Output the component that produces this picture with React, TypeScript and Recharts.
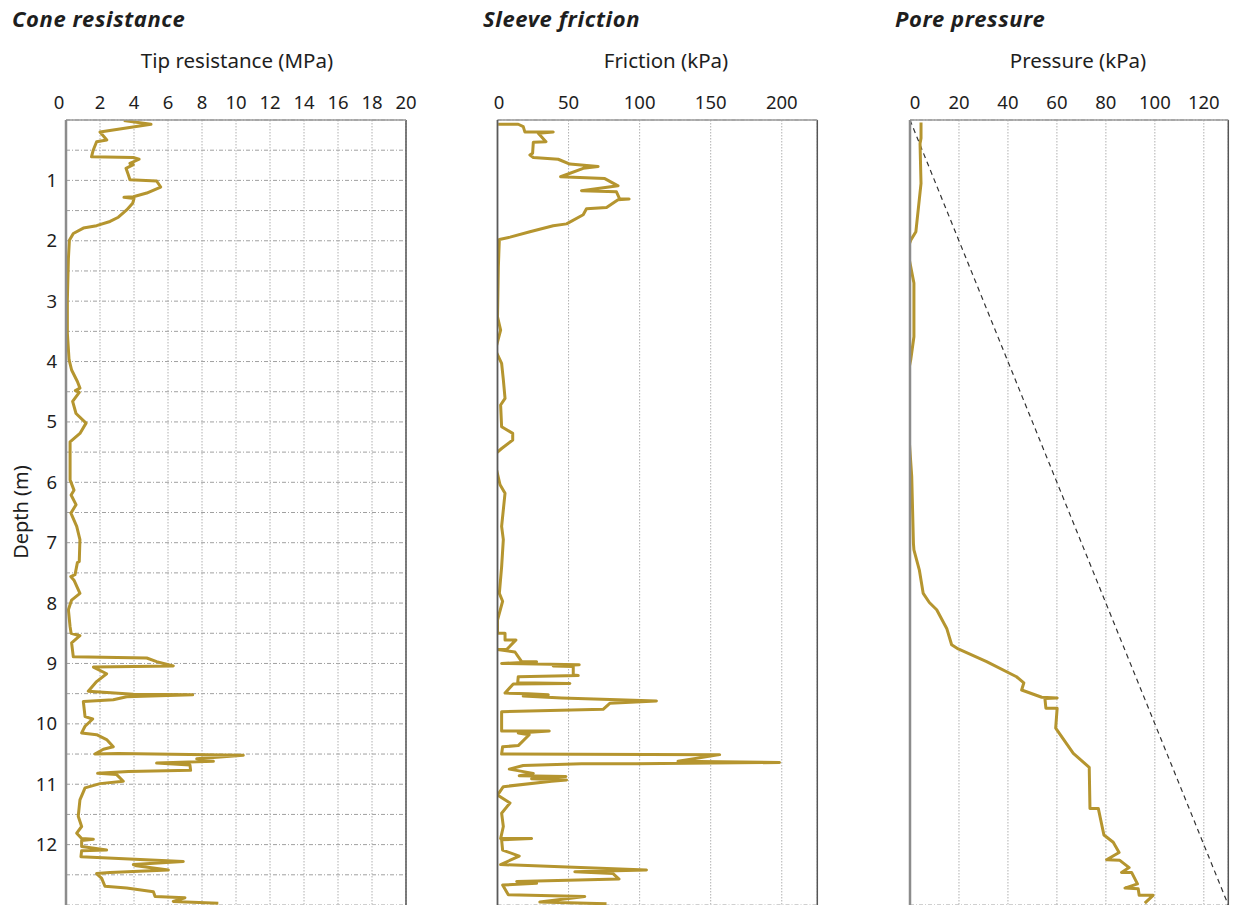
import React from 'react';
import { LineChart, Line, XAxis, YAxis, CartesianGrid, ReferenceLine } from 'recharts';

// ---------- data ----------
const coneDepth = [
  0.01, 0.07, 0.2, 0.33, 0.36, 0.5, 0.61, 0.62, 0.65, 0.72, 0.74, 0.8, 0.91, 0.99, 1.01, 1.11, 1.21, 1.27, 1.28, 1.3,
  1.38, 1.49, 1.61, 1.68, 1.75, 1.79, 1.88, 1.99, 2.3, 2.98, 3.53, 3.97, 4.14, 4.33, 4.44, 4.48, 4.51, 4.66, 4.86, 5.02,
  5.19, 5.33, 5.96, 6.13, 6.21, 6.37, 6.51, 6.73, 6.95, 7.31, 7.33, 7.53, 7.56, 7.62, 7.84, 7.95, 8.11, 8.39, 8.5, 8.54,
  8.66, 8.89, 8.91, 8.97, 9.04, 9.06, 9.17, 9.3, 9.46, 9.51, 9.52, 9.55, 9.6, 9.63, 9.88, 9.92, 10.04, 10.15, 10.18, 10.26,
  10.38, 10.42, 10.5, 10.49, 10.52, 10.58, 10.62, 10.65, 10.68, 10.77, 10.79, 10.82, 10.84, 10.95, 10.99, 11.06, 11.26, 11.53, 11.7, 11.81,
  11.9, 11.91, 11.93, 12.03, 12.09, 12.1, 12.2, 12.28, 12.33, 12.35, 12.42, 12.46, 12.48, 12.56, 12.69, 12.72, 12.78, 12.86, 12.88, 12.94,
  12.97,
];
const coneValues = [
  3.4, 5.0, 2.0, 2.4, 1.8, 1.6, 1.5, 3.95, 4.3, 3.76, 3.96, 3.53, 3.67, 3.76, 5.33, 5.57, 4.75, 3.96, 3.41, 4.0,
  3.92, 3.57, 3.08, 2.59, 1.8, 1.02, 0.43, 0.2, 0.14, 0.08, 0.08, 0.18, 0.33, 0.67, 0.82, 0.55, 0.78, 0.39, 0.59, 1.18,
  0.82, 0.24, 0.24, 0.47, 0.3, 0.59, 0.29, 0.63, 0.82, 0.78, 0.67, 0.53, 0.28, 0.47, 0.82, 0.33, 0.14, 0.24, 0.3, 0.82,
  0.33, 0.43, 4.75, 5.33, 6.31, 1.61, 2.39, 1.8, 1.31, 3.96, 7.45, 3.57, 2.78, 1.02, 1.12, 1.57, 1.12, 0.92, 1.8, 2.39,
  2.78, 2.2, 1.7, 3.08, 10.43, 7.69, 8.67, 5.33, 7.29, 7.33, 3.67, 1.86, 2.98, 3.37, 2.0, 1.12, 0.82, 0.72, 0.92, 0.63,
  0.92, 1.61, 0.92, 0.92, 2.39, 0.92, 0.88, 6.9, 3.96, 4.14, 6.02, 2.59, 1.8, 2.1, 2.29, 3.57, 5.14, 5.24, 7.0, 6.31,
  8.96,
];

const frictionDepth = [
  0.07, 0.07, 0.11, 0.2, 0.2, 0.22, 0.36, 0.37, 0.55, 0.58, 0.62, 0.65, 0.73, 0.77, 0.8, 0.94, 0.97, 1.09, 1.17, 1.19,
  1.31, 1.31, 1.32, 1.45, 1.47, 1.57, 1.72, 1.75, 1.85, 1.94, 1.98, 2.43, 3.26, 3.48, 3.81, 4.03, 4.3, 4.61, 4.72, 5.08,
  5.19, 5.3, 5.44, 5.56, 6.04, 6.18, 6.73, 6.95, 7.4, 7.84, 7.97, 8.28, 8.5, 8.5, 8.61, 8.61, 8.77, 8.77, 8.81, 8.97,
  8.97, 9.0, 9.02, 9.04, 9.05, 9.19, 9.2, 9.22, 9.32, 9.33, 9.34, 9.49, 9.5, 9.52, 9.54, 9.57, 9.6, 9.62, 9.66, 9.76,
  9.8, 10.12, 10.12, 10.15, 10.18, 10.36, 10.38, 10.5, 10.51, 10.62, 10.64, 10.66, 10.66, 10.69, 10.75, 10.82, 10.86, 10.87, 10.91, 10.93,
  10.95, 11.04, 11.18, 11.31, 11.48, 11.7, 11.9, 11.9, 11.92, 12.09, 12.19, 12.33, 12.42, 12.45, 12.48, 12.57, 12.61, 12.64, 12.67, 12.83,
  12.86, 12.95, 12.98,
];
const frictionValues = [
  0.5, 14.6, 18.1, 19.3, 39.2, 28.7, 34.1, 25.2, 24.7, 22.8, 25.2, 42.7, 50.9, 70.8, 60.3, 44.4, 75.5, 84.8, 59.1, 83.7,
  86.0, 92.6, 84.8, 76.7, 62.6, 60.3, 48.6, 39.2, 22.8, 8.8, 1.3, 0.6, 0, 2.2, -1.5, 2.9, 4.1, 5.3, 2.2, 2.9,
  10.7, 10.7, 2.9, -3, 1.8, 5.3, 2.9, 4.1, 2.9, 1.3, 3.6, 0, 0, 5.3, 5.3, 13, 6.4, 0, 12.3, 17,
  27.5, 2.9, 57.5, 39.2, 53.3, 53.3, 56.8, 14.6, 14.2, 50.9, 11.1, 5.3, 21.6, 35.7, 18.1, 45.1, 84.8, 111.8, 79, 74.3,
  2.9, 2.9, 36.4, 14.6, 22.3, 14.6, 3.6, 2.9, 156.3, 127, 198.4, 97.7, 59.1, 18.1, 8.3, 25.2, 15.3, 48.1, 24, 48.6,
  38, 4.1, 0, 8.8, 2.9, 4.1, 2.2, 24, 2.9, 3.6, 15.3, 2.2, 104.8, 54.4, 81.3, 85.5, 13.5, 27.5, 3.6, 7.6,
  61.4, 29.8, 76.7,
];

const poreDepth = [
  0.04, 0.3, 0.39, 1.05, 1.85, 1.99, 2.15, 2.43, 2.7, 3.59, 3.97, 4.35, 5.08, 5.9, 7.01, 7.12, 7.45, 7.84, 7.99, 8.11,
  8.42, 8.69, 8.76, 8.97, 9.22, 9.32, 9.44, 9.56, 9.57, 9.58, 9.74, 9.74, 10.07, 10.49, 10.72, 11.4, 11.4, 11.84, 11.96, 12.13,
  12.25, 12.26, 12.38, 12.46, 12.46, 12.65, 12.72, 12.73, 12.84, 12.84, 12.97,
];
const poreValues = [
  4.5, 4.5, 4.1, 4.5, 2.4, 0.3, -1.1, 0.3, 1.6, 1.6, 0.3, -1.6, -0.7, 0.7, 1.4, 1.6, 3.8, 5.4, 7.9, 10.9,
  15, 17, 19.7, 31.3, 43.5, 46.5, 45.6, 53.8, 60.1, 55.1, 55.5, 60.1, 59.5, 66.7, 73.2, 73.5, 76.9, 79.2, 83, 85.4,
  80.3, 85.7, 89.5, 86.4, 90.5, 92.9, 87.8, 93.2, 93.6, 99.3, 95.9,
];

const hydroDepth = [0, 13];
const hydroValues = [0, 130];

const depthTicks = [0, 0.5, 1, 1.5, 2, 2.5, 3, 3.5, 4, 4.5, 5, 5.5, 6, 6.5, 7, 7.5, 8, 8.5, 9, 9.5, 10, 10.5, 11, 11.5, 12, 12.5, 13];
const coneTicks = [0, 2, 4, 6, 8, 10, 12, 14, 16, 18, 20];
const frictionTicks = [0, 50, 100, 150, 200];
const poreTicks = [0, 20, 40, 60, 80, 100, 120];

const coneData = coneDepth.map((d, i) => ({ depth: d, v: coneValues[i] }));
const frictionData = frictionDepth.map((d, i) => ({ depth: d, v: frictionValues[i] }));
const poreData = poreDepth.map((d, i) => ({ depth: d, v: poreValues[i] }));
const hydroData = hydroDepth.map((d, i) => ({ depth: d, h: hydroValues[i] }));

// ---------- style ----------
const FONT = '"Noto Sans", "DejaVu Sans", sans-serif';
const GOLD = '#b5952f';
const TEXT = '#1e1e1e';

const makeTopTick = (shift0: number) => (props: any) => {
  const { x, y, payload } = props;
  return (
    <text
      x={x + (payload.value === 0 ? shift0 : 0)}
      y={y}
      textAnchor="middle"
      fontSize={18.5}
      fill={TEXT}
      fontFamily={FONT}
    >
      {payload.value}
    </text>
  );
};

type PanelProps = {
  left: number;
  width: number;
  marginLeft: number;
  marginRight: number;
  data: any[];
  domainMax: number;
  ticks: number[];
  shift0: number;
  showDepth: boolean;
  leftAxisColor: string;
  leftAxisWidth: number;
  hydro?: boolean;
};

const Panel = (p: PanelProps) => (
  <div style={{ position: 'absolute', left: p.left, top: 0 }}>
    <LineChart
      width={p.width}
      height={905}
      data={p.data}
      layout="vertical"
      margin={{ top: 90, right: p.marginRight, bottom: 0, left: p.marginLeft }}
    >
      <CartesianGrid horizontal={true} vertical={false} stroke="#a0a0a0" strokeDasharray="4 2 1 2" strokeWidth={1} />
      <CartesianGrid horizontal={false} vertical={true} stroke="#b0b0b0" strokeDasharray="1.5 1.5" strokeWidth={1} />
      <XAxis
        type="number"
        orientation="top"
        domain={[0, p.domainMax]}
        allowDataOverflow
        ticks={p.ticks}
        interval={0}
        tickLine={false}
        tickSize={6}
        tickMargin={5}
        height={30}
        axisLine={{ stroke: '#9a9a9a', strokeWidth: 1.5 }}
        tick={makeTopTick(p.shift0)}
      />
      <YAxis
        type="number"
        dataKey="depth"
        domain={[0, 13]}
        allowDataOverflow
        ticks={depthTicks}
        interval={0}
        width={46}
        tickLine={false}
        tickSize={6}
        tickMargin={3}
        axisLine={{ stroke: p.leftAxisColor, strokeWidth: p.leftAxisWidth }}
        tick={p.showDepth ? { fontSize: 18.5, fill: TEXT, fontFamily: FONT } : false}
        tickFormatter={(v: number) => (Number.isInteger(v) && v >= 1 && v <= 12 ? String(v) : '')}
      />
      <ReferenceLine x={p.domainMax} stroke="#555" strokeWidth={1.5} />
      {p.hydro && (
        <Line
          data={hydroData}
          dataKey="h"
          type="linear"
          stroke="#333"
          strokeWidth={1.2}
          strokeDasharray="5 4"
          dot={false}
          activeDot={false}
          isAnimationActive={false}
        />
      )}
      <Line
        dataKey="v"
        type="linear"
        stroke={GOLD}
        strokeWidth={3}
        strokeLinejoin="round"
        dot={false}
        activeDot={false}
        isAnimationActive={false}
      />
    </LineChart>
  </div>
);

const Label = ({ text, x, top, size, bold, italic, center, spacing }: any) => (
  <div
    style={{
      position: 'absolute',
      left: x,
      top,
      transform: center ? 'translateX(-50%)' : undefined,
      fontSize: size,
      lineHeight: `${size}px`,
      fontWeight: bold ? 700 : 400,
      fontStyle: italic ? 'italic' : 'normal',
      letterSpacing: spacing ?? 0,
      whiteSpace: 'nowrap',
      color: TEXT,
      fontFamily: FONT,
    }}
  >
    {text}
  </div>
);

export default function App() {
  return (
    <div
      style={{
        position: 'absolute',
        left: 0,
        top: 0,
        width: 1235,
        height: 905,
        overflow: 'hidden',
        background: '#fff',
        fontFamily: FONT,
      }}
    >
      <Panel left={0} width={420} marginLeft={20} marginRight={14} data={coneData} domainMax={20} ticks={coneTicks}
        shift0={-7} showDepth leftAxisColor="#8c8c8c" leftAxisWidth={2.5} />
      <Panel left={440} width={400} marginLeft={11.5} marginRight={22.7} data={frictionData} domainMax={225}
        ticks={frictionTicks} shift0={1.5} showDepth={false} leftAxisColor="#5a5a5a" leftAxisWidth={1.8} />
      <Panel left={850} width={385} marginLeft={14} marginRight={6.7} data={poreData} domainMax={130} ticks={poreTicks}
        shift0={5} showDepth={false} leftAxisColor="#8c8c8c" leftAxisWidth={2.5} hydro />

      <Label text="Cone resistance" x={12} top={7} size={22} bold italic spacing={0.6} />
      <Label text="Sleeve friction" x={483} top={7} size={22} bold italic spacing={0.6} />
      <Label text="Pore pressure" x={895} top={7} size={22} bold italic spacing={0.6} />

      <Label text="Tip resistance (MPa)" x={237} top={50} size={20.5} center />
      <Label text="Friction (kPa)" x={666} top={50} size={20.5} center />
      <Label text="Pressure (kPa)" x={1078} top={50} size={20.5} center />

      <div
        style={{
          position: 'absolute',
          left: 0,
          top: 0,
          transformOrigin: '0 0',
          transform: 'translate(10.5px, 512px) rotate(-90deg) translateX(-50%)',
          fontSize: 20,
          lineHeight: '20px',
          whiteSpace: 'nowrap',
          color: TEXT,
          fontFamily: FONT,
        }}
      >
        Depth (m)
      </div>
    </div>
  );
}
